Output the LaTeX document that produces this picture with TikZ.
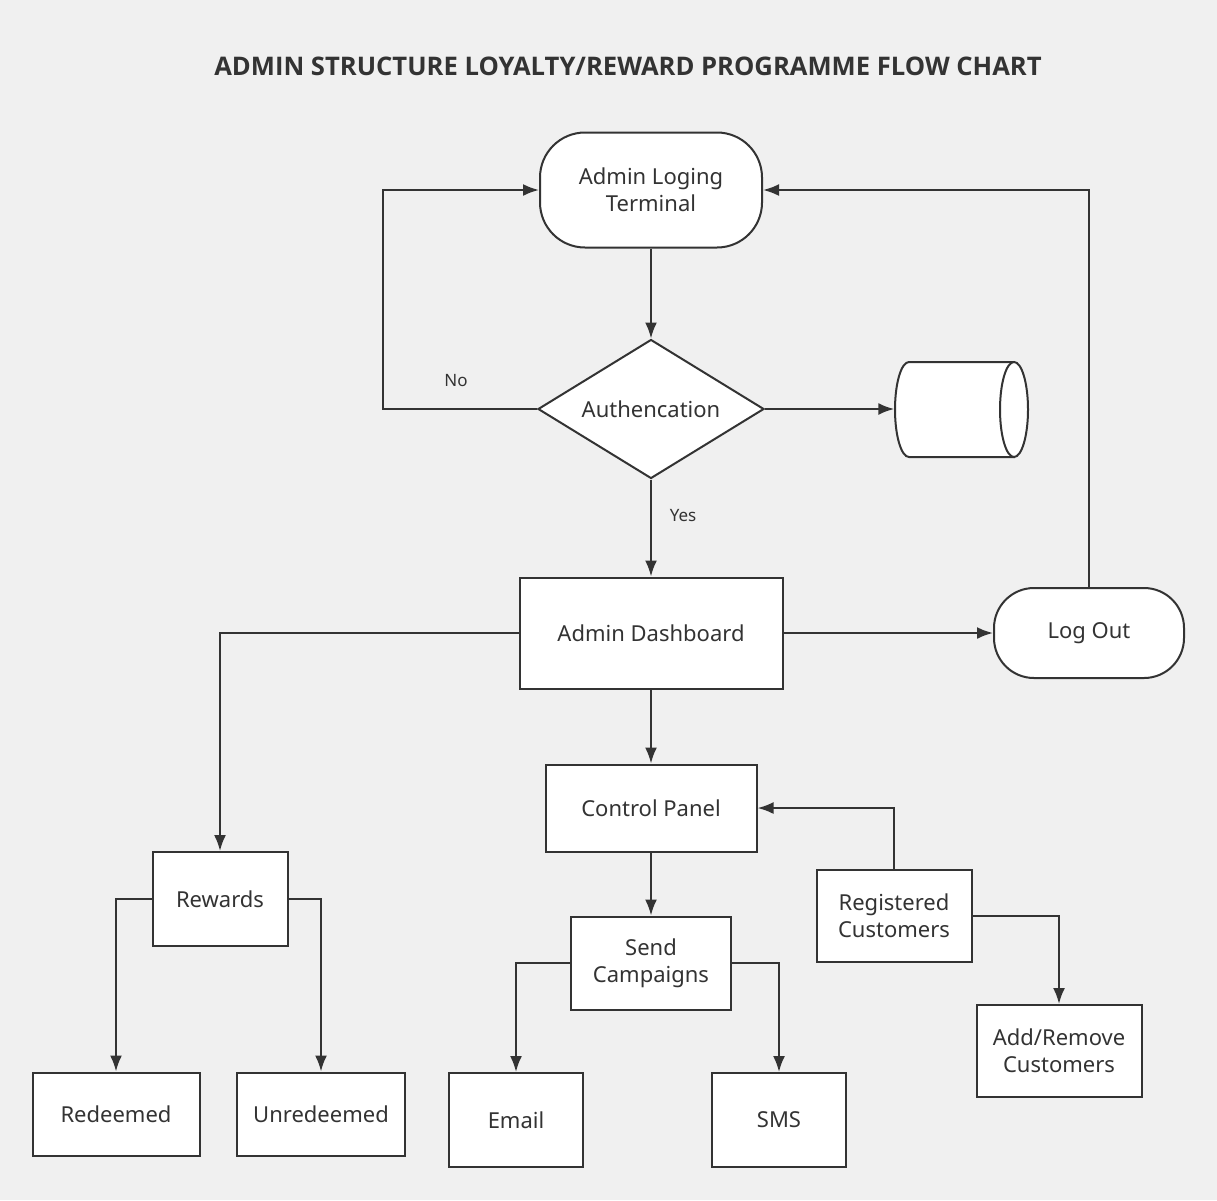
\documentclass[tikz,border=0pt]{standalone}
\usepackage{fontspec}
\setmainfont{Noto Sans}
\newfontfamily\titlefont{Open Sans}
\usetikzlibrary{shapes.geometric,arrows.meta}
\definecolor{nen}{HTML}{F0F0F0}
\definecolor{vien}{HTML}{333333}
\tikzset{
 hop/.style={draw=vien,line width=2pt,fill=white,text=vien,align=center,inner sep=2pt,font=\fontsize{22}{27}\selectfont},
 term/.style={hop,rounded corners=45pt},
 thoi/.style={hop,diamond,aspect=1.63,minimum width=226pt,minimum height=139pt,inner sep=0pt},
 line/.style={draw=vien,line width=2.2pt},
 nhan/.style={text=vien,font=\fontsize{17}{20}\selectfont}
}
\begin{document}
\begin{tikzpicture}[x=1pt,y=-1pt,>={Latex[length=16pt,width=12pt]}]
% nen + khung
\fill[nen] (0,0) rectangle (1217,1200);
\useasboundingbox (0,0) rectangle (1217,1200);
\node[text=vien,font=\titlefont\bfseries\fontsize{25.6}{30}\selectfont] (title) at (628,66) {ADMIN STRUCTURE LOYALTY/REWARD PROGRAMME FLOW CHART};
% cac khoi
\node[term,minimum width=222pt,minimum height=115pt] (login) at (651,190) {Admin Loging\\Terminal};
\node[thoi] (auth) at (651,409) {Authencation};
\node[minimum width=133pt,minimum height=95pt] (db) at (961,409) {};
\node[hop,minimum width=263pt,minimum height=111pt] (dash) at (651,633) {Admin Dashboard};
\node[term,rounded corners=40pt,minimum width=190pt,minimum height=90pt] (logout) at (1089,633) {Log Out};
\node[hop,minimum width=211pt,minimum height=87pt] (panel) at (651,808) {Control Panel};
\node[hop,minimum width=135pt,minimum height=94pt] (rewards) at (220,899) {Rewards};
\node[hop,minimum width=155pt,minimum height=92pt] (regcust) at (894,916) {Registered\\Customers};
\node[hop,minimum width=160pt,minimum height=93pt] (send) at (651,963) {Send\\Campaigns};
\node[hop,minimum width=165pt,minimum height=92pt] (addrem) at (1059,1051) {Add/Remove\\Customers};
\node[hop,minimum width=167pt,minimum height=83pt] (redeemed) at (116,1114) {Redeemed};
\node[hop,minimum width=168pt,minimum height=83pt] (unredeemed) at (321,1114) {Unredeemed};
\node[hop,minimum width=134pt,minimum height=94pt] (email) at (516,1120) {Email};
\node[hop,minimum width=134pt,minimum height=94pt] (sms) at (779,1120) {SMS};
% hinh tru (csdl)
\filldraw[draw=vien,fill=white,line width=2pt] (909,362) arc[start angle=-90,end angle=-270,x radius=14,y radius=47.5] -- (1014,457) -- (1014,362) -- cycle;
\filldraw[draw=vien,fill=white,line width=2pt] (1014,409.5) ellipse[x radius=14,y radius=47.5];
% nhan No / Yes
\node[nhan] (no) at (456,381) {No};
\node[nhan] (yes) at (683,516) {Yes};
% duong noi
\coordinate (goc) at (383,190);
\draw[line,->] (login) -- (auth);
\draw[line,->] (auth.west) -| (goc) -- (login.west);
\draw[line,->] (auth) -- (db);
\draw[line,->] (auth) -- (dash);
\draw[line,->] (dash.west) -| (rewards.north);
\draw[line,->] (dash) -- (logout);
\draw[line,->] (logout.north) |- (login.east);
\draw[line,->] (dash) -- (panel);
\draw[line,->] (panel) -- (send);
\draw[line,->] (regcust.north) |- (panel.east);
\draw[line,->] (regcust.east) -| (addrem.north);
\foreach \a/\b in {rewards/redeemed,rewards/unredeemed,send/email,send/sms}
\draw[line,->] (\a) -| (\b);
\end{tikzpicture}
\end{document}
